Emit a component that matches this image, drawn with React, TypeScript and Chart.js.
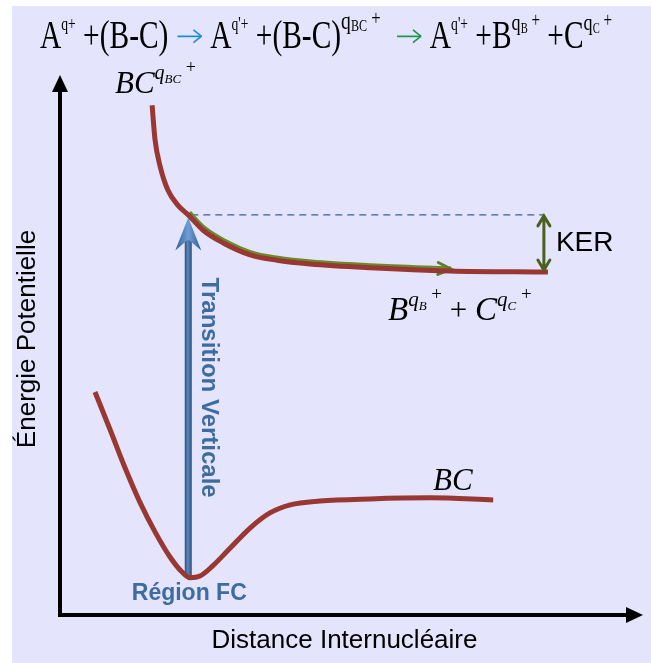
import React, { useEffect, useRef } from "react";
import { Chart, registerables } from "chart.js";
Chart.register(...registerables);

// Abstract units: x = internuclear distance, y = potential energy
const X_MIN = 0, X_MAX = 10, Y_MIN = 0, Y_MAX = 10;

// Dissociative curve of (B-C)^{qBC+}
const upperX = [1.58, 1.63, 1.72, 1.85, 2.02, 2.2, 2.45, 2.8, 3.26, 3.72, 4.29, 5.32, 6.69, 8.37];
const upperY = [9.44, 8.8, 8.3, 7.87, 7.59, 7.41, 7.13, 6.89, 6.67, 6.57, 6.5, 6.43, 6.37, 6.35];
// Bound ground state BC
const lowerX = [0.6, 0.86, 1.11, 1.37, 1.63, 1.89, 2.09, 2.23, 2.4, 2.62, 2.92, 3.26, 3.6, 3.95, 4.46, 5.32, 6.35, 7.43];
const lowerY = [4.13, 3.43, 2.74, 2.09, 1.54, 1.07, 0.8, 0.69, 0.72, 0.91, 1.24, 1.61, 1.89, 2.04, 2.11, 2.15, 2.17, 2.13];
// Fragment path (green arrow) follows the upper curve between these indices
const fragStart = 5, fragEnd = 12;
// Vertical (Franck-Condon) transition
const fcX = 2.2, fcY0 = 0.69, fcY1 = 7.36;
// KER marker
const kerX = 8.3, kerTop = 7.41, kerBottom = 6.37;

const RED = "#993833";
const BLUE = "#3f6b9f";
const OLIVE = "#4c5f1f";
const SANS = "'Liberation Sans', Arial, sans-serif";
const SERIF = "'Liberation Serif', 'Times New Roman', serif";

type Run = { t?: string; size: number; dy?: number; italic?: boolean; color?: string; arrow?: string; w?: number };

function runsWidth(ctx: CanvasRenderingContext2D, runs: Run[], family: string) {
  let w = 0;
  for (const r of runs) {
    if (r.arrow) { w += r.w || 30; continue; }
    ctx.font = `${r.italic ? "italic " : ""}${r.size}px ${family}`;
    w += ctx.measureText(r.t || "").width;
  }
  return w;
}

function drawRuns(ctx: CanvasRenderingContext2D, runs: Run[], x: number, y: number, family: string, sx: number) {
  ctx.save();
  ctx.translate(x, y);
  ctx.scale(sx, 1);
  ctx.textBaseline = "alphabetic";
  ctx.textAlign = "left";
  let cx = 0;
  for (const r of runs) {
    if (r.arrow) {
      const w = r.w || 30;
      const ay = -r.size * 0.3;
      ctx.strokeStyle = r.arrow;
      ctx.lineWidth = 1.8;
      ctx.beginPath();
      ctx.moveTo(cx + 3, ay);
      ctx.lineTo(cx + w - 4, ay);
      ctx.stroke();
      ctx.beginPath();
      ctx.moveTo(cx + w - 2, ay);
      ctx.lineTo(cx + w - 12, ay - 6);
      ctx.moveTo(cx + w - 2, ay);
      ctx.lineTo(cx + w - 12, ay + 6);
      ctx.stroke();
      cx += w;
      continue;
    }
    ctx.font = `${r.italic ? "italic " : ""}${r.size}px ${family}`;
    ctx.fillStyle = r.color || "#000";
    ctx.fillText(r.t || "", cx, -(r.dy || 0));
    cx += ctx.measureText(r.t || "").width;
  }
  ctx.restore();
}

function arrowHead(ctx: CanvasRenderingContext2D, x: number, y: number, ang: number, len: number, half: number) {
  ctx.beginPath();
  ctx.moveTo(x, y);
  ctx.lineTo(x - len * Math.cos(ang) + half * Math.sin(ang), y - len * Math.sin(ang) - half * Math.cos(ang));
  ctx.lineTo(x - len * Math.cos(ang) - half * Math.sin(ang), y - len * Math.sin(ang) + half * Math.cos(ang));
  ctx.closePath();
  ctx.fill();
}

const bgPlugin = {
  id: "bg",
  beforeDraw(chart: any) {
    const ctx = chart.ctx;
    ctx.save();
    ctx.fillStyle = "#e4e4fc";
    ctx.fillRect(12, 6, chart.width - 12, chart.height - 6);
    ctx.restore();
  },
};

const underPlugin = {
  id: "under",
  beforeDatasetsDraw(chart: any) {
    const ctx: CanvasRenderingContext2D = chart.ctx;
    const xs = chart.scales.x, ys = chart.scales.y;
    // dashed reference line
    ctx.save();
    ctx.strokeStyle = "#3a5f94";
    ctx.lineWidth = 1.3;
    ctx.setLineDash([7, 5]);
    ctx.beginPath();
    ctx.moveTo(xs.getPixelForValue(fcX) + 3, ys.getPixelForValue(kerTop));
    ctx.lineTo(xs.getPixelForValue(kerX), ys.getPixelForValue(kerTop));
    ctx.stroke();
    ctx.restore();

    // Vertical blue transition arrow
    const x = xs.getPixelForValue(fcX);
    const yb = ys.getPixelForValue(fcY0);
    const yt = ys.getPixelForValue(fcY1);
    ctx.save();
    const g = ctx.createLinearGradient(x - 4, 0, x + 4, 0);
    g.addColorStop(0, "#22466f");
    g.addColorStop(0.45, "#5a88c0");
    g.addColorStop(1, "#22466f");
    ctx.fillStyle = g;
    const sw = 3.5;
    ctx.beginPath();
    ctx.moveTo(x - sw, yb);
    ctx.lineTo(x - sw, yt + 22);
    ctx.lineTo(x + sw, yt + 22);
    ctx.lineTo(x + sw, yb);
    ctx.closePath();
    ctx.fill();
    const g2 = ctx.createLinearGradient(x - 13, 0, x + 13, 0);
    g2.addColorStop(0, "#345f96");
    g2.addColorStop(0.5, "#6f9dd6");
    g2.addColorStop(1, "#345f96");
    ctx.fillStyle = g2;
    ctx.beginPath();
    ctx.moveTo(x, yt);
    ctx.lineTo(x + 13, yt + 33);
    ctx.lineTo(x, yt + 22);
    ctx.lineTo(x - 13, yt + 33);
    ctx.closePath();
    ctx.fill();
    ctx.restore();
  },
  beforeDatasetDraw(chart: any, args: any) {
    if (args.index === 2) {
      chart.ctx.save();
      chart.ctx.translate(1, -2);
    }
  },
  afterDatasetDraw(chart: any, args: any) {
    if (args.index === 2) {
      const ctx: CanvasRenderingContext2D = chart.ctx;
      const xs = chart.scales.x, ys = chart.scales.y;
      const x1 = xs.getPixelForValue(upperX[fragEnd]);
      const y1 = ys.getPixelForValue(upperY[fragEnd]);
      const x0 = xs.getPixelForValue(upperX[fragEnd - 1]);
      const y0 = ys.getPixelForValue(upperY[fragEnd - 1]);
      const ang = Math.atan2(y1 - y0, x1 - x0);
      ctx.strokeStyle = "#5f7d2a";
      ctx.lineWidth = 3;
      ctx.lineCap = "round";
      ctx.beginPath();
      ctx.moveTo(x1 - 13 * Math.cos(ang) + 6 * Math.sin(ang), y1 - 13 * Math.sin(ang) - 6 * Math.cos(ang));
      ctx.lineTo(x1, y1);
      ctx.lineTo(x1 - 13 * Math.cos(ang) - 6 * Math.sin(ang), y1 - 13 * Math.sin(ang) + 6 * Math.cos(ang));
      ctx.stroke();
      chart.ctx.restore();
    }
  },
};

const overPlugin = {
  id: "over",
  afterDraw(chart: any) {
    const ctx: CanvasRenderingContext2D = chart.ctx;
    const xs = chart.scales.x, ys = chart.scales.y;
    const { left, right, top, bottom } = chart.chartArea;
    ctx.save();
    // axes
    ctx.strokeStyle = "#000";
    ctx.fillStyle = "#000";
    ctx.lineWidth = 4;
    ctx.beginPath();
    ctx.moveTo(left, bottom + 2);
    ctx.lineTo(left, top + 14);
    ctx.moveTo(left - 2, bottom);
    ctx.lineTo(right - 14, bottom);
    ctx.stroke();
    arrowHead(ctx, left, top, -Math.PI / 2, 17, 8);
    arrowHead(ctx, right, bottom, 0, 17, 8);

    // KER double arrow
    const kx = xs.getPixelForValue(kerX);
    const kt = ys.getPixelForValue(kerTop);
    const kb = ys.getPixelForValue(kerBottom);
    ctx.strokeStyle = OLIVE;
    ctx.lineWidth = 3;
    ctx.lineCap = "round";
    ctx.beginPath();
    ctx.moveTo(kx, kt + 2);
    ctx.lineTo(kx, kb - 2);
    ctx.moveTo(kx - 6, kt + 11);
    ctx.lineTo(kx, kt + 1);
    ctx.lineTo(kx + 6, kt + 11);
    ctx.moveTo(kx - 6, kb - 11);
    ctx.lineTo(kx, kb - 1);
    ctx.lineTo(kx + 6, kb - 11);
    ctx.stroke();

    // Texts
    ctx.fillStyle = "#000";
    ctx.font = `28px ${SANS}`;
    ctx.textAlign = "left";
    ctx.textBaseline = "middle";
    ctx.fillText("KER", kx + 12, (kt + kb) / 2);

    ctx.textAlign = "center";
    ctx.font = `26px ${SANS}`;
    ctx.fillText("Distance Internucléaire", (left + right) / 2 - 7, bottom + 26);

    ctx.save();
    ctx.translate(left - 32, (top + bottom) / 2 - 6);
    ctx.rotate(-Math.PI / 2);
    ctx.fillText("Énergie Potentielle", 0, 0);
    ctx.restore();

    const fx = xs.getPixelForValue(fcX);
    ctx.fillStyle = BLUE;
    ctx.font = `bold 23px ${SANS}`;
    ctx.fillText("Région FC", fx + 1, ys.getPixelForValue(fcY0) + 16);
    ctx.font = `bold 24px ${SANS}`;
    ctx.save();
    ctx.translate(fx + 20, (ys.getPixelForValue(fcY1) + ys.getPixelForValue(fcY0)) / 2 - 10);
    ctx.rotate(Math.PI / 2);
    ctx.fillText("Transition Verticale", 0, 0);
    ctx.restore();

    // Math labels
    drawRuns(ctx, [
      { t: "BC", size: 31, italic: true },
      { t: "q", size: 20, italic: true, dy: 14 },
      { t: "BC", size: 13, italic: true, dy: 10 },
      { t: " +", size: 18, italic: false, dy: 20 },
    ], 115, 93, SERIF, 1);

    drawRuns(ctx, [
      { t: "B", size: 33, italic: true },
      { t: "q", size: 21, italic: true, dy: 14 },
      { t: "B", size: 13, italic: true, dy: 10 },
      { t: " +", size: 19, dy: 20 },
      { t: " + ", size: 31 },
      { t: "C", size: 33, italic: true },
      { t: "q", size: 21, italic: true, dy: 14 },
      { t: "C", size: 13, italic: true, dy: 10 },
      { t: " +", size: 19, dy: 20 },
    ], 388, 320, SERIF, 1);

    drawRuns(ctx, [{ t: "BC", size: 31, italic: true }], 433, 490, SERIF, 1);

    // Top reaction equation
    const S = 39, SUP = 18;
    const eq: Run[] = [
      { t: "A", size: S },
      { t: "q+", size: SUP, dy: 18 },
      { t: " +(B-C) ", size: S },
      { arrow: "#1a8fd6", size: S, w: 36 },
      { t: " A", size: S },
      { t: "q'+", size: SUP, dy: 18 },
      { t: " +(B-C)", size: S },
      { t: "q", size: 26, dy: 19 },
      { t: "BC", size: 16, dy: 17 },
      { t: " +", size: 22, dy: 23 },
      { t: "  ", size: S },
      { arrow: "#1a9a50", size: S, w: 36 },
      { t: " A", size: S },
      { t: "q'+", size: SUP, dy: 18 },
      { t: " +B", size: S },
      { t: "q", size: 24, dy: 18 },
      { t: "B", size: 14, dy: 15 },
      { t: " +", size: 20, dy: 21 },
      { t: " +C", size: S },
      { t: "q", size: 24, dy: 18 },
      { t: "C", size: 14, dy: 15 },
      { t: " +", size: 20, dy: 21 },
    ];
    const tw = runsWidth(ctx, eq, SERIF);
    drawRuns(ctx, eq, 40, 48, SERIF, 572 / tw);

    ctx.restore();
  },
};

export default function App() {
  const ref = useRef<HTMLCanvasElement>(null);
  useEffect(() => {
    if (!ref.current) return;
    const up = upperX.map((x, i) => ({ x, y: upperY[i] }));
    const low = lowerX.map((x, i) => ({ x, y: lowerY[i] }));
    const frag = up.slice(fragStart, fragEnd + 1);
    const chart = new Chart(ref.current, {
      type: "scatter",
      data: {
        datasets: [
          { data: up, showLine: true, borderColor: RED, borderWidth: 5, pointRadius: 0, cubicInterpolationMode: "monotone", borderCapStyle: "butt" },
          { data: low, showLine: true, borderColor: RED, borderWidth: 5, pointRadius: 0, cubicInterpolationMode: "monotone" },
          { data: frag, showLine: true, borderColor: "#6a8a2c", borderWidth: 5, pointRadius: 0, cubicInterpolationMode: "monotone" },
        ],
      },
      options: {
        responsive: false,
        animation: false,
        events: [],
        layout: { padding: { left: 60, right: 8, top: 75, bottom: 48 } },
        scales: {
          x: { type: "linear", min: X_MIN, max: X_MAX, display: false },
          y: { type: "linear", min: Y_MIN, max: Y_MAX, display: false },
        },
        plugins: { legend: { display: false }, tooltip: { enabled: false } },
      },
      plugins: [bgPlugin, underPlugin, overPlugin],
    } as any);
    return () => chart.destroy();
  }, []);
  return (
    <div style={{ position: "fixed", left: 0, top: 0, width: 651, height: 663, background: "#fff" }}>
      <canvas ref={ref} width={651} height={663} style={{ display: "block" }} />
    </div>
  );
}
